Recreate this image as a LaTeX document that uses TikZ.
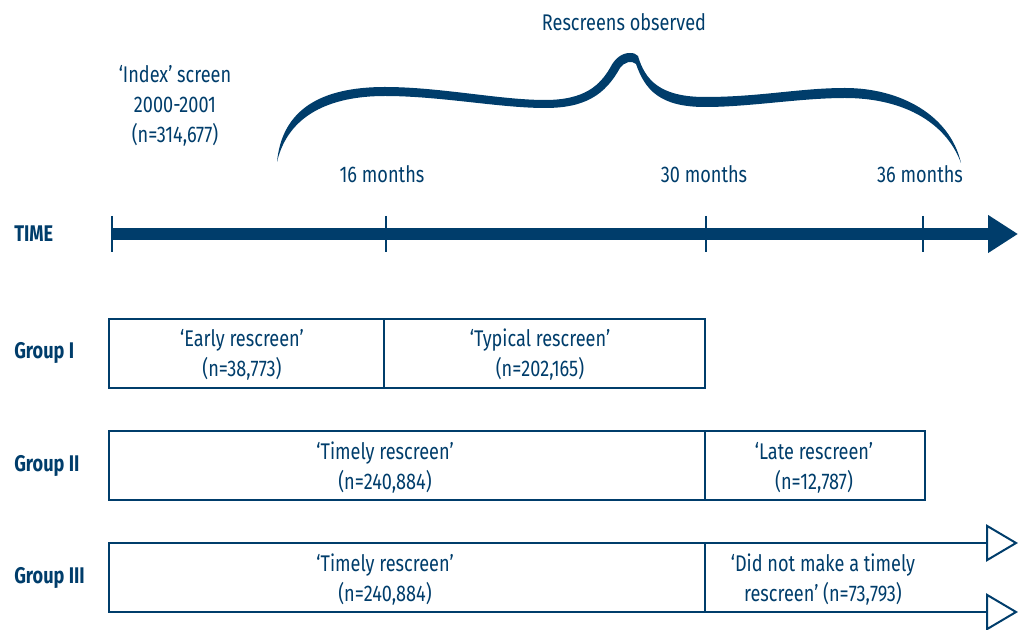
\documentclass[tikz,border=0pt]{standalone}
\usepackage{fontspec}
\setmainfont{Fira Sans}[FakeStretch=0.8]
\usetikzlibrary{arrows.meta}
\definecolor{navy}{RGB}{0,61,107}
\begin{document}
\begin{tikzpicture}[x=0.75pt,y=-0.75pt,
  lbl/.style={text=navy, font=\fontsize{17}{22.5}\selectfont, align=center, inner sep=0pt},
  grp/.style={text=navy, font=\bfseries\fontsize{17}{22.5}\selectfont, anchor=west, inner sep=0pt},
  box/.style={draw=navy, line width=1.5pt, minimum height=51.75pt, inner sep=0pt},
  tick/.style={draw=navy, line width=1.5pt},
  openarrow/.style={draw=navy, line width=1.5pt, -{Triangle[open, length=24pt, width=28pt]}}]
\useasboundingbox (0,0) rectangle (1020,630);
% top texts
\node[lbl] (obs) at (624,22) {Rescreens observed};
\node[lbl] (index) at (175,106) {‘Index’ screen\\2000-2001\\(n=314,677)};
\node[lbl] (m16) at (382,174) {16 months};
\node[lbl] (m30) at (704,174) {30 months};
\node[lbl] (m36) at (920,174) {36 months};
% brace
\fill[navy] (277,162) .. controls (282,110) and (320,87) .. (385,87)
  .. controls (440,87) and (500,100) .. (545,100)
  .. controls (585,100) and (600,85) .. (610,68)
  .. controls (615,58) and (622,53) .. (630,53)
  .. controls (634,53) and (636,54) .. (638,56)
  .. controls (645,80) and (660,97) .. (705,97)
  .. controls (760,97) and (800,88) .. (845,88)
  .. controls (900,88) and (950,115) .. (961,163)
  .. controls (945,120) and (900,98) .. (845,98)
  .. controls (800,98) and (750,107) .. (705,107)
  .. controls (660,107) and (645,90) .. (636,64)
  .. controls (632,60) and (624,62) .. (620,68)
  .. controls (605,95) and (585,108) .. (545,108)
  .. controls (500,108) and (440,96) .. (385,96)
  .. controls (330,96) and (288,115) .. (277,162) -- cycle;
% timeline
\node[grp] (time) at (14,234) {TIME};
\coordinate (t0) at (112,234);
\coordinate (tend) at (1018,234);
\draw[navy, line width=8.8pt, -{Triangle[length=22.5pt, width=27pt]}] (t0) -- (tend);
\foreach \x/\n in {112/a,386/b,706/c,923/d} {
  \coordinate (\n top) at (\x,216);
  \coordinate (\n bot) at (\x,252);
  \draw[tick] (\n top) -- (\n bot);
}
% Group I
\node[grp] (g1) at (14,353) {Group I};
\node[box, minimum width=206.25pt] (b11) at (246.5,353.5) {};
\node[box, minimum width=240.75pt] (b12) at (544.5,353.5) {};
\node[lbl] (t11) at (242,355) {‘Early rescreen’\\(n=38,773)};
\node[lbl] (t12) at (540,355) {‘Typical rescreen’\\(n=202,165)};
% Group II
\node[grp] (g2) at (14,466) {Group II};
\node[box, minimum width=447pt] (b21) at (407,465.5) {};
\node[box, minimum width=165pt] (b22) at (815,465.5) {};
\node[lbl] (t21) at (385,468) {‘Timely rescreen’\\(n=240,884)};
\node[lbl] (t22) at (814,468) {‘Late rescreen’\\(n=12,787)};
% Group III
\node[grp] (g3) at (14,578) {Group III};
\node[box, minimum width=447pt] (b31) at (407,577.5) {};
\node[lbl] (t31) at (385,580) {‘Timely rescreen’\\(n=240,884)};
\node[lbl] (t32) at (823,580) {‘Did not make a timely\\rescreen’ (n=73,793)};
\coordinate (u0) at (705,543);
\coordinate (u1) at (1018,543);
\coordinate (l0) at (705,612);
\coordinate (l1) at (1018,612);
\draw[openarrow] (u0) -- (u1);
\draw[openarrow] (l0) -- (l1);
\end{tikzpicture}
\end{document}
